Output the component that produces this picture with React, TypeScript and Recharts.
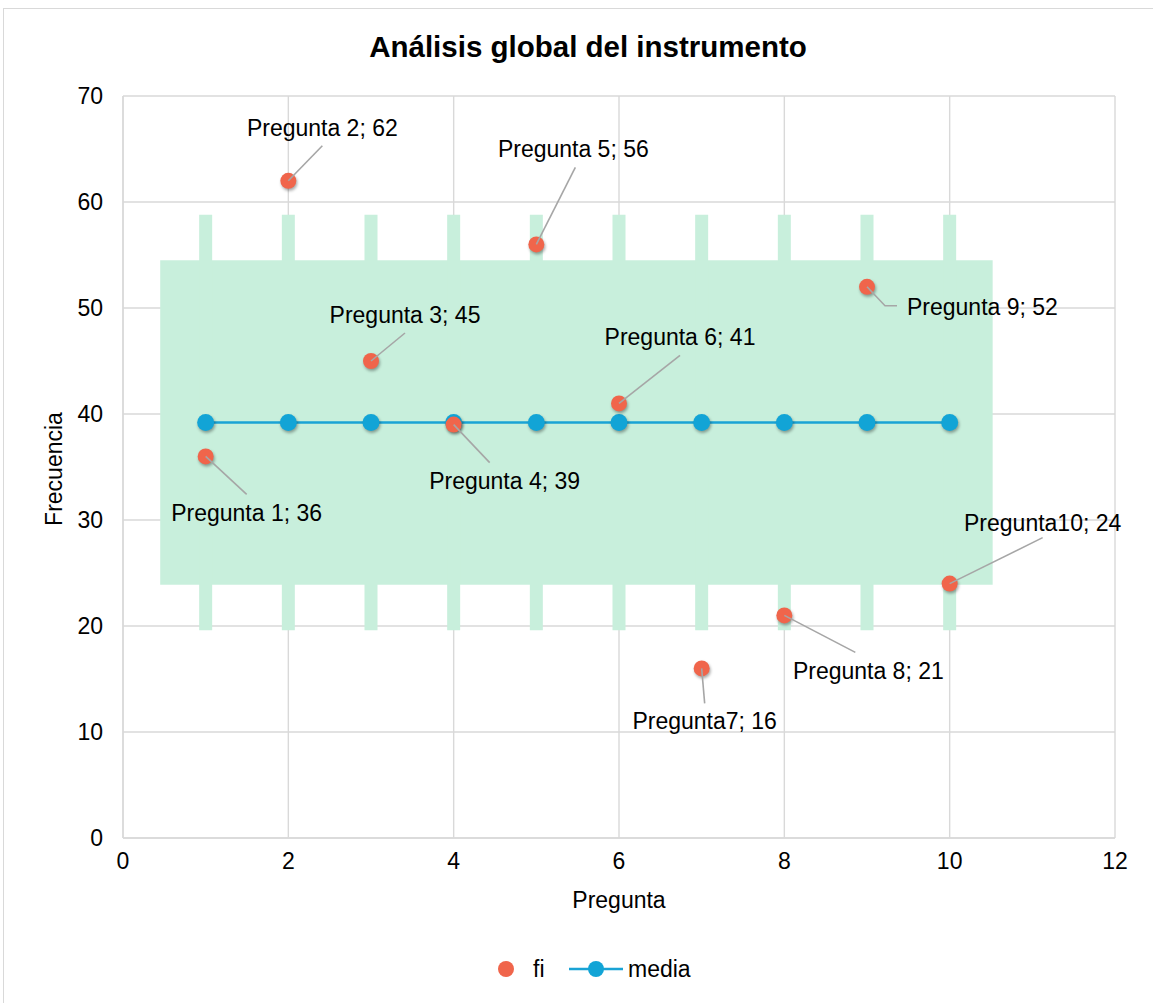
import React from 'react';
import { ScatterChart, Scatter, XAxis, YAxis, CartesianGrid, ReferenceArea, ErrorBar } from 'recharts';

// ---- data ----
const preguntas = [1, 2, 3, 4, 5, 6, 7, 8, 9, 10];
const fi = [36, 62, 45, 39, 56, 41, 16, 21, 52, 24];
const media = [39.2, 39.2, 39.2, 39.2, 39.2, 39.2, 39.2, 39.2, 39.2, 39.2];
const mediaError = [19.6, 19.6, 19.6, 19.6, 19.6, 19.6, 19.6, 19.6, 19.6, 19.6];
const nombres = [
  'Pregunta 1', 'Pregunta 2', 'Pregunta 3', 'Pregunta 4', 'Pregunta 5',
  'Pregunta 6', 'Pregunta7', 'Pregunta 8', 'Pregunta 9', 'Pregunta10',
];
const xTicks = [0, 2, 4, 6, 8, 10, 12];
const yTicks = [0, 10, 20, 30, 40, 50, 60, 70];
const bandaX = [0.45, 10.52];
const bandaY = [23.9, 54.5];

// ---- style / layout ----
const FONT = '"Liberation Sans", Arial, Helvetica, sans-serif';
const ORANGE = '#F0654B';
const BLUE = '#12A4D6';
const BLUE_LINE = '#1AA3D5';
const GREEN = '#C8EFDC';
const GRID = '#D9D9D9';
const LEADER = '#A6A6A6';

// label placement relative to the point (text baseline), leader polyline points
const labelLayout = [
  { tx: 41, ty: 65, anchor: 'middle', leader: [[41, 38]] },
  { tx: 34, ty: -45, anchor: 'middle', leader: [[34, -35]] },
  { tx: 34, ty: -38, anchor: 'middle', leader: [[34, -28]] },
  { tx: 51, ty: 64, anchor: 'middle', leader: [[36, 38]] },
  { tx: 37, ty: -87, anchor: 'middle', leader: [[39, -77]] },
  { tx: 61, ty: -58, anchor: 'middle', leader: [[61, -48]] },
  { tx: 3, ty: 61, anchor: 'middle', leader: [[3, 35]] },
  { tx: 84, ty: 64, anchor: 'middle', leader: [[71, 37]] },
  { tx: 40, ty: 28, anchor: 'start', leader: [[18, 19], [30, 19]] },
  { tx: 93, ty: -53, anchor: 'middle', leader: [[93, -46]] },
];

const fiData = preguntas.map((x, i) => ({ x, y: fi[i], i }));
const mediaData = preguntas.map((x, i) => ({ x, y: media[i], err: mediaError[i], i }));

const shadow = 'drop-shadow(1px 2px 1.5px rgba(0,0,0,0.35))';

const FiShape = (props: any) => {
  const { cx, cy, payload } = props;
  const i = payload.i;
  const l = labelLayout[i];
  const pts = [[0, 0], ...l.leader].map(([a, b]) => `${cx + a},${cy + b}`).join(' ');
  return (
    <g>
      <circle cx={cx} cy={cy} r={8} fill={ORANGE} style={{ filter: shadow }} />
      <polyline points={pts} fill="none" stroke={LEADER} strokeWidth={1.6} />
      <text
        x={cx + l.tx}
        y={cy + l.ty}
        textAnchor={l.anchor as any}
        fontFamily={FONT}
        fontSize={23}
        fill="#000"
      >
        {`${nombres[i]}; ${fi[i]}`}
      </text>
    </g>
  );
};

const MediaShape = (props: any) => {
  const { cx, cy } = props;
  return <circle cx={cx} cy={cy} r={8.5} fill={BLUE} style={{ filter: shadow }} />;
};

const NoShape = () => <g />;

export default function App() {
  return (
    <div
      style={{
        position: 'fixed',
        left: 0,
        top: 0,
        width: 1153,
        height: 1003,
        overflow: 'hidden',
        background: '#fff',
        fontFamily: FONT,
      }}
    >
      <div
        style={{
          position: 'absolute',
          left: 3,
          top: 8,
          width: 1170,
          height: 1020,
          border: `1.5px solid ${GRID}`,
          boxSizing: 'border-box',
        }}
      />
      <div style={{ position: 'absolute', left: 0, top: 0 }}>
        <ScatterChart
          width={1153}
          height={1003}
          margin={{ top: 96, right: 38, bottom: 105, left: 63 }}
        >
          <CartesianGrid stroke={GRID} strokeWidth={1.4} />
          <XAxis
            type="number"
            dataKey="x"
            domain={[0, 12]}
            ticks={xTicks}
            interval={0}
            height={60}
            axisLine={{ stroke: GRID, strokeWidth: 1.4 }}
            tickLine={false}
            tickSize={0}
            tickMargin={15}
            tick={{ fill: '#000', fontSize: 23, fontFamily: FONT }}
            label={{
              content: (p: any) => {
                const vb = p.viewBox;
                return (
                  <text
                    x={vb.x + vb.width / 2}
                    y={vb.y + 70}
                    textAnchor="middle"
                    fontFamily={FONT}
                    fontSize={23}
                    fill="#000"
                  >
                    Pregunta
                  </text>
                );
              },
            }}
          />
          <YAxis
            type="number"
            dataKey="y"
            domain={[0, 70]}
            ticks={yTicks}
            interval={0}
            width={60}
            axisLine={{ stroke: GRID, strokeWidth: 1.4 }}
            tickLine={false}
            tickSize={0}
            tickMargin={20}
            tick={{ fill: '#000', fontSize: 23, fontFamily: FONT }}
            label={{
              content: (p: any) => {
                const vb = p.viewBox;
                const x = vb.x - 1;
                const y = vb.y + vb.height / 2 + 2;
                return (
                  <text
                    x={x}
                    y={y}
                    transform={`rotate(-90, ${x}, ${y})`}
                    textAnchor="middle"
                    fontFamily={FONT}
                    fontSize={23}
                    fill="#000"
                  >
                    Frecuencia
                  </text>
                );
              },
            }}
          />
          <Scatter
            name="error"
            data={mediaData}
            shape={NoShape}
            legendType="none"
            isAnimationActive={false}
          >
            <ErrorBar dataKey="err" direction="y" width={0} stroke={GREEN} strokeWidth={13} />
          </Scatter>
          <ReferenceArea
            x1={bandaX[0]}
            x2={bandaX[1]}
            y1={bandaY[0]}
            y2={bandaY[1]}
            fill={GREEN}
            fillOpacity={1}
            stroke="none"
          />
          <Scatter
            name="media"
            data={mediaData}
            line={{ stroke: BLUE_LINE, strokeWidth: 2.5 }}
            lineType="joint"
            shape={MediaShape}
            isAnimationActive={false}
          />
          <Scatter name="fi" data={fiData} shape={FiShape} isAnimationActive={false} />
        </ScatterChart>
      </div>
      <svg
        width={1153}
        height={1003}
        style={{ position: 'absolute', left: 0, top: 0, pointerEvents: 'none' }}
      >
        <text x={588} y={57} textAnchor="middle" fontFamily={FONT} fontSize={29.5} fontWeight="bold" fill="#000">
          Análisis global del instrumento
        </text>
        <circle cx={506} cy={969} r={8} fill={ORANGE} />
        <text x={533} y={977} fontFamily={FONT} fontSize={23} fill="#000">fi</text>
        <line x1={569} y1={969} x2={623} y2={969} stroke={BLUE_LINE} strokeWidth={2.5} />
        <circle cx={596} cy={969} r={8} fill={BLUE} />
        <text x={628} y={977} fontFamily={FONT} fontSize={23} fill="#000">media</text>
      </svg>
    </div>
  );
}
